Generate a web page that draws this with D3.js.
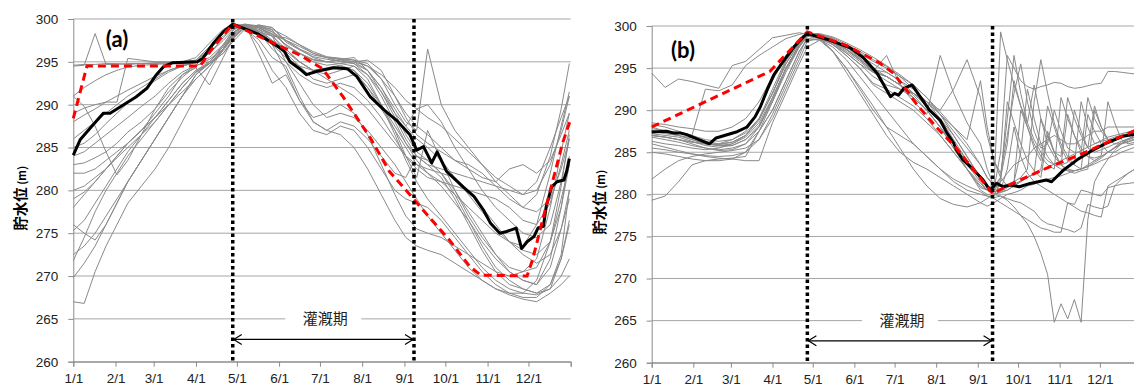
<!DOCTYPE html>
<html>
<head>
<meta charset="utf-8">
<script src="https://cdn.jsdelivr.net/npm/d3@7"></script>
<style>
  body { margin: 0; background: #fff; }
  svg { display: block; font-family: Lato, "Open Sans", sans-serif; }
</style>
</head>
<body>
<svg id="chart" width="1134" height="387"></svg>
<script>
// ---- axes ----
const monthDays = [0, 31, 59, 90, 120, 151, 181, 212, 243, 273, 304, 334];
const monthLabels = ["1/1", "2/1", "3/1", "4/1", "5/1", "6/1", "7/1", "8/1", "9/1", "10/1", "11/1", "12/1"];
const levelTicks = [260, 265, 270, 275, 280, 285, 290, 295, 300];
const periodLabel = "灌漑期";
const yTitle = "貯水位";
const yUnit = " (m)";

// ---- panel (a) ----
const irrigA = [117, 250];
const ruleDaysA = [0, 10, 93, 103, 117, 144, 166, 183, 198, 218, 232, 247, 261, 276, 291, 299, 333, 337, 345, 352, 359, 365];
const ruleA = [288.4, 294.5, 294.5, 296.8, 299.4, 297.4, 295.8, 294.2, 290.9, 286.1, 282.2, 279.5, 276.9, 274.2, 271.1, 270.1, 270.0, 271.9, 276.9, 281.2, 285.5, 288.3];
const meanDaysA = [0, 5, 12, 22, 27, 46, 54, 61, 66, 73, 91, 95, 103, 110, 117, 135, 152, 155, 159, 166, 171, 179, 191, 201, 208, 218, 228, 237, 247, 252, 257, 263, 267, 274, 286, 294, 301, 306, 313, 318, 325, 329, 333, 338, 341, 345, 347, 351, 355, 360, 362, 364];
const meanA = [284.1, 285.9, 287.2, 289.0, 289.0, 290.9, 291.9, 293.5, 294.4, 294.9, 295.0, 295.4, 297.2, 298.5, 299.4, 298.3, 296.6, 296.2, 295.0, 294.2, 293.5, 293.9, 294.3, 294.2, 293.3, 290.9, 289.4, 288.2, 286.5, 284.7, 285.1, 283.2, 284.5, 282.2, 280.4, 279.3, 277.7, 276.2, 275.0, 275.2, 275.6, 273.2, 274.0, 274.6, 275.6, 275.8, 278.1, 280.4, 281.0, 281.2, 282.2, 283.7];
const daysA = [0, 8, 16, 24, 32, 40, 50, 60, 70, 80, 90, 100, 110, 118, 126, 136, 146, 156, 166, 176, 186, 196, 206, 216, 226, 236, 244, 252, 260, 270, 280, 290, 300, 310, 320, 330, 340, 350, 358, 364];
const yearsA = [
  [294.6, 294.7, 294.7, 294.8, 294.8, 294.7, 294.8, 294.8, 294.9, 294.9, 295.2, 296.5, 298.3, 299.2, 299.4, 299.0, 298.2, 297.5, 296.5, 295.8, 295.5, 295.3, 295.0, 294.5, 293.5, 292.0, 290.5, 289.5, 288.5, 287.5, 286.0, 284.5, 283.0, 281.5, 280.5, 279.5, 280.0, 283.0, 287.0, 291.0],
  [294.5, 294.6, 298.3, 294.7, 294.7, 294.8, 294.8, 294.9, 294.9, 295.0, 295.5, 297.2, 298.8, 299.4, 299.2, 298.5, 298.0, 297.8, 297.0, 296.2, 295.6, 295.4, 295.2, 294.8, 293.0, 290.0, 288.0, 287.0, 296.5, 290.0, 287.0, 285.0, 283.0, 281.0, 279.5, 278.0, 279.5, 284.0, 289.5, 294.8],
  [291.0, 292.0, 292.8, 293.5, 294.0, 294.4, 294.6, 294.7, 294.8, 294.8, 295.0, 296.0, 297.8, 299.0, 299.3, 298.6, 297.0, 295.5, 294.5, 294.0, 294.2, 294.5, 294.0, 292.0, 289.5, 287.0, 285.0, 283.0, 282.0, 281.0, 279.5, 278.0, 276.5, 275.0, 274.0, 273.5, 276.0, 282.0, 287.5, 291.5],
  [291.0, 289.8, 287.5, 284.5, 281.8, 283.5, 286.5, 289.5, 292.0, 293.5, 294.6, 296.5, 298.5, 299.2, 298.8, 297.6, 295.5, 294.5, 291.0, 288.0, 287.0, 288.0, 287.5, 286.0, 284.0, 282.0, 281.5, 284.0, 283.5, 282.0, 279.5, 276.5, 273.5, 271.0, 269.5, 268.5, 268.0, 268.5, 272.0, 276.5],
  [289.0, 289.6, 290.0, 290.3, 290.3, 295.4, 295.2, 295.0, 295.0, 295.0, 295.2, 296.8, 298.5, 299.3, 299.0, 297.0, 294.0, 292.0, 289.0, 287.0, 286.5, 287.5, 287.0, 285.0, 282.5, 280.0, 279.0, 278.5, 278.0, 276.5, 274.5, 272.5, 270.5, 269.0, 268.0, 267.5, 267.5, 269.0, 272.0, 276.0],
  [288.0, 288.8, 289.5, 290.3, 291.0, 291.7, 292.5, 293.3, 294.0, 294.6, 295.0, 296.0, 297.5, 298.8, 299.3, 299.0, 298.3, 297.0, 296.0, 295.2, 295.0, 295.3, 295.5, 294.0, 291.5, 288.5, 286.0, 284.0, 283.0, 282.5, 282.0, 281.5, 281.0, 280.5, 280.0, 279.5, 281.0, 285.0, 288.5, 291.0],
  [286.0, 287.0, 288.0, 289.0, 290.0, 291.0, 292.0, 293.0, 294.0, 294.5, 295.0, 296.5, 298.0, 299.0, 299.4, 299.2, 298.8, 298.0, 297.0, 296.0, 295.5, 295.0, 294.8, 294.0, 292.0, 289.5, 287.5, 286.0, 285.0, 283.5, 281.5, 279.5, 277.5, 275.5, 274.0, 273.0, 272.5, 274.0, 278.0, 283.0],
  [285.0, 285.5, 286.5, 287.8, 289.0, 290.2, 291.6, 292.8, 293.8, 294.5, 294.9, 295.5, 297.0, 298.8, 299.3, 299.1, 298.5, 297.5, 296.8, 296.0, 295.5, 295.4, 295.2, 294.5, 293.0, 291.0, 289.0, 287.5, 286.5, 285.0, 283.5, 282.5, 281.5, 281.0, 282.5, 283.0, 282.0, 283.5, 286.5, 289.0],
  [284.0, 284.5, 285.5, 286.5, 287.5, 288.5, 289.8, 291.0, 292.5, 293.8, 294.6, 295.0, 296.8, 298.5, 299.2, 298.8, 297.5, 296.5, 295.0, 294.0, 293.5, 294.0, 294.5, 293.5, 291.0, 288.0, 285.5, 283.5, 282.0, 280.5, 278.5, 276.5, 274.0, 272.0, 270.5, 269.5, 269.0, 272.0, 278.0, 284.0],
  [283.0, 283.2, 283.8, 284.5, 285.5, 286.8, 288.0, 289.5, 291.5, 293.2, 294.5, 295.3, 296.5, 298.0, 299.0, 298.5, 296.5, 295.0, 292.5, 290.0, 288.5, 289.0, 288.5, 287.0, 285.0, 283.0, 281.0, 279.0, 277.0, 275.0, 273.0, 271.0, 269.5, 268.5, 268.0, 268.0, 269.5, 274.0, 280.5, 286.5],
  [282.0, 282.0, 282.5, 283.5, 284.5, 285.5, 287.0, 288.5, 290.5, 292.5, 294.0, 294.8, 296.0, 297.5, 298.8, 299.3, 299.0, 297.3, 296.4, 295.6, 295.3, 295.1, 294.8, 293.5, 291.5, 289.0, 287.5, 289.5, 290.0, 288.0, 285.0, 282.5, 280.0, 278.0, 276.5, 275.0, 274.5, 276.0, 281.0, 286.0],
  [280.0, 280.5, 281.5, 282.5, 283.8, 285.0, 286.5, 288.0, 290.0, 292.0, 293.8, 294.8, 296.0, 297.8, 299.0, 299.2, 298.5, 297.0, 296.0, 295.0, 294.6, 294.8, 294.5, 293.0, 290.0, 286.5, 283.5, 281.0, 279.0, 277.0, 275.0, 273.0, 271.0, 269.5, 268.5, 268.0, 267.8, 268.5, 270.0, 272.0],
  [279.0, 279.8, 281.0, 282.5, 284.0, 285.5, 287.0, 288.5, 290.0, 291.5, 293.0, 294.5, 296.3, 298.0, 299.0, 299.3, 299.0, 297.5, 296.5, 295.5, 295.0, 294.8, 295.0, 295.2, 294.0, 291.0, 288.5, 286.5, 285.5, 284.5, 283.5, 283.0, 282.0, 280.5, 279.0, 278.0, 277.5, 279.0, 282.5, 286.0],
  [278.0, 279.5, 281.0, 282.5, 284.0, 285.5, 287.0, 289.0, 291.0, 293.5, 294.3, 292.3, 295.5, 298.0, 299.0, 298.8, 298.0, 296.5, 295.0, 294.0, 294.3, 294.6, 294.0, 292.5, 290.0, 287.0, 284.0, 281.5, 287.0, 283.5, 280.0, 277.0, 274.5, 272.5, 271.0, 270.5, 272.0, 278.0, 284.5, 289.0],
  [276.0, 275.0, 274.2, 276.0, 278.5, 281.0, 283.5, 286.0, 288.5, 291.0, 293.5, 294.8, 296.5, 298.3, 299.2, 299.0, 297.0, 294.0, 290.5, 288.0, 287.0, 286.5, 285.0, 282.5, 279.5, 276.5, 274.5, 273.5, 273.0, 272.5, 271.5, 270.5, 269.5, 268.5, 267.8, 267.3, 267.0, 268.0, 269.0, 270.0],
  [275.3, 276.5, 278.5, 280.5, 282.5, 284.5, 286.5, 288.5, 290.5, 292.5, 294.0, 295.0, 296.8, 298.5, 299.3, 299.2, 298.7, 296.8, 296.0, 295.3, 295.0, 295.2, 295.0, 294.0, 292.0, 289.0, 286.5, 284.5, 283.5, 282.0, 280.0, 277.5, 275.0, 272.5, 270.5, 269.5, 269.0, 271.0, 275.5, 280.0],
  [271.8, 274.5, 277.5, 280.0, 282.0, 284.0, 286.0, 288.0, 290.0, 292.0, 293.8, 294.8, 296.5, 298.2, 299.0, 298.6, 297.5, 296.2, 295.0, 294.0, 293.0, 292.0, 291.0, 289.5, 287.5, 285.5, 284.0, 283.0, 282.5, 282.0, 281.5, 280.0, 278.0, 276.0, 274.0, 272.5, 271.5, 272.5, 275.5, 279.0],
  [267.0, 266.8, 270.5, 273.5, 276.0, 278.5, 280.5, 282.5, 285.0, 288.0, 291.0, 294.0, 296.5, 298.5, 299.2, 299.0, 298.0, 295.0, 293.5, 292.5, 292.0, 292.5, 292.0, 290.5, 288.5, 286.0, 284.0, 282.5, 281.5, 281.0, 280.5, 280.0, 279.5, 279.0, 278.0, 276.5, 276.0, 278.5, 283.0, 287.0],
  [272.5, 273.5, 275.0, 277.0, 279.0, 281.0, 283.5, 286.0, 288.5, 291.0, 293.5, 295.0, 297.0, 298.8, 299.4, 296.0, 292.5, 293.5, 290.5, 288.5, 289.0, 290.0, 289.0, 286.5, 283.0, 279.5, 277.0, 275.5, 275.0, 274.5, 273.5, 272.5, 271.5, 270.5, 270.0, 270.5, 271.0, 274.0, 279.0, 283.0],
  [269.8, 271.5, 273.5, 276.0, 278.5, 281.0, 283.5, 286.0, 288.5, 291.0, 293.0, 294.5, 296.5, 298.5, 299.3, 299.0, 298.2, 296.0, 294.5, 293.0, 292.5, 293.0, 293.5, 292.0, 290.0, 287.5, 285.5, 284.0, 283.0, 281.5, 279.0, 276.0, 273.0, 270.5, 269.0, 268.5, 268.0, 269.0, 272.5, 280.0]
];

// ---- panel (b) ----
const irrigB = [116, 254];
const ruleDaysB = [0, 88, 116, 145, 170, 180, 188, 198, 212, 227, 242, 254, 269, 294, 319, 344, 365];
const ruleB = [288.0, 294.6, 299.3, 297.7, 295.6, 294.4, 292.8, 290.6, 288.0, 285.5, 282.5, 280.1, 281.3, 283.1, 284.7, 286.5, 287.9];
const meanDaysB = [0, 11, 16, 21, 26, 43, 48, 63, 71, 77, 81, 86, 91, 98, 106, 113, 116, 133, 148, 158, 168, 178, 181, 184, 188, 194, 200, 207, 215, 220, 225, 227, 232, 240, 247, 252, 257, 262, 267, 274, 282, 294, 298, 307, 317, 327, 339, 351, 359, 365];
const meanB = [287.4, 287.5, 287.3, 287.3, 287.1, 286.0, 286.7, 287.4, 288.0, 289.2, 290.4, 292.4, 294.2, 295.8, 297.5, 298.7, 299.1, 298.3, 297.4, 296.2, 294.4, 291.6, 292.0, 291.8, 292.6, 293.0, 291.6, 290.0, 288.8, 287.3, 286.1, 285.3, 284.1, 282.9, 281.7, 280.5, 281.3, 280.9, 281.1, 280.9, 281.3, 281.7, 281.5, 282.9, 284.1, 285.1, 286.1, 286.9, 287.1, 287.3];
const daysB = [0, 10, 20, 30, 40, 50, 60, 70, 80, 90, 100, 110, 116, 125, 135, 145, 155, 165, 175, 185, 195, 205, 215, 225, 235, 245, 250, 255, 260, 265, 270, 275, 280, 285, 290, 295, 300, 305, 310, 315, 320, 325, 330, 335, 340, 345, 350, 355, 360, 365];
const yearsB = [
  [294.4, 292.7, 293.7, 293.4, 293.0, 292.6, 295.3, 295.8, 297.2, 298.6, 298.9, 299.2, 299.0, 298.6, 297.8, 296.8, 295.5, 294.0, 293.0, 292.5, 292.0, 291.0, 289.5, 287.5, 285.5, 283.5, 282.0, 281.0, 281.5, 282.5, 283.5, 284.0, 284.5, 285.5, 286.0, 286.5, 287.0, 286.5, 286.0, 286.0, 286.5, 287.0, 287.5, 287.5, 288.0, 288.0, 288.0, 288.0, 288.0, 288.0],
  [288.5, 288.3, 288.0, 287.8, 287.5, 287.5, 288.0, 289.0, 291.0, 294.0, 296.5, 298.5, 299.2, 299.0, 298.3, 297.2, 296.0, 294.8, 294.5, 293.5, 292.0, 290.5, 289.0, 287.0, 284.5, 282.0, 280.8, 280.5, 285.0, 296.5, 295.0, 293.5, 292.8, 292.5, 292.8, 293.0, 293.3, 293.2, 292.8, 292.6, 292.7, 292.9, 293.1, 293.2, 294.6, 294.6, 294.5, 294.4, 294.3, 294.3],
  [287.0, 286.8, 286.5, 286.0, 285.5, 285.3, 285.5, 286.0, 288.0, 291.5, 295.0, 297.8, 298.8, 298.6, 297.8, 296.5, 295.0, 293.2, 292.5, 291.5, 290.5, 289.0, 287.0, 285.0, 283.0, 280.8, 280.5, 280.0, 279.8, 279.3, 278.5, 277.5, 276.5, 275.0, 273.0, 270.5, 264.8, 267.0, 265.2, 267.5, 264.8, 277.0, 281.5, 283.0, 284.2, 285.2, 286.0, 286.5, 286.8, 287.0],
  [279.3, 279.8, 281.5, 283.5, 284.0, 284.2, 284.3, 284.5, 287.5, 290.0, 293.5, 297.0, 298.5, 298.4, 297.5, 296.0, 294.0, 292.0, 290.0, 288.0, 286.0, 284.5, 283.0, 281.8, 281.0, 280.3, 279.8, 279.5, 279.0, 278.5, 278.0, 277.5, 277.0, 276.5, 276.0, 275.8, 275.5, 275.5, 279.0, 278.5, 278.0, 277.8, 277.5, 277.3, 281.0, 281.5, 282.0, 282.5, 283.0, 283.5],
  [281.8, 283.0, 284.0, 284.5, 284.8, 285.0, 285.2, 285.5, 286.5, 289.0, 292.5, 296.0, 298.2, 298.5, 297.8, 296.5, 295.0, 293.0, 292.0, 291.0, 290.0, 288.5, 287.0, 285.0, 283.0, 281.0, 280.5, 280.3, 280.5, 281.0, 281.5, 290.0, 288.0, 285.5, 284.0, 290.5, 288.0, 285.5, 284.0, 283.5, 291.0, 288.0, 286.0, 286.3, 286.5, 286.8, 287.0, 287.2, 287.3, 287.5],
  [285.5, 285.3, 285.0, 284.8, 284.6, 284.5, 284.6, 285.0, 286.5, 289.5, 293.0, 296.5, 298.8, 299.0, 298.5, 297.5, 296.2, 294.5, 293.5, 292.5, 291.5, 290.0, 288.0, 285.5, 283.0, 280.5, 280.0, 279.8, 281.5, 291.0, 288.5, 286.0, 284.0, 282.8, 282.0, 287.0, 285.0, 283.5, 282.8, 282.5, 282.8, 283.0, 290.0, 288.0, 286.5, 286.0, 286.0, 286.2, 286.5, 286.8],
  [286.3, 286.0, 285.8, 285.5, 285.3, 285.5, 286.0, 287.0, 289.0, 292.0, 295.5, 298.0, 299.0, 298.8, 298.0, 296.8, 295.5, 294.5, 294.0, 293.0, 291.5, 290.0, 288.0, 286.0, 284.0, 282.0, 281.0, 280.2, 282.0, 286.0, 293.5, 290.5, 288.0, 286.0, 284.5, 283.5, 283.0, 291.5, 289.0, 287.0, 285.5, 284.5, 284.0, 284.5, 285.0, 285.5, 286.0, 286.3, 286.6, 287.0],
  [287.0, 286.8, 286.5, 286.2, 286.0, 286.0, 286.5, 287.5, 290.0, 293.5, 296.5, 298.5, 299.2, 299.0, 298.6, 297.8, 297.0, 296.0, 295.2, 294.0, 292.5, 291.0, 289.0, 286.5, 284.0, 281.8, 280.8, 280.5, 299.3, 296.0, 293.0, 290.5, 288.5, 286.5, 285.0, 284.0, 283.5, 283.0, 282.8, 282.8, 283.0, 283.3, 283.8, 284.3, 285.0, 285.6, 286.2, 286.6, 287.0, 287.2],
  [287.5, 287.2, 287.0, 286.5, 286.0, 285.8, 286.0, 286.8, 288.5, 291.5, 295.0, 297.5, 298.8, 299.0, 298.3, 297.3, 296.0, 294.6, 296.5, 293.0, 291.0, 289.5, 296.5, 292.0, 288.5, 286.0, 283.0, 281.0, 282.0, 289.0, 296.5, 292.0, 288.5, 293.0, 289.0, 286.0, 284.5, 283.5, 283.0, 282.8, 283.0, 283.5, 284.0, 284.5, 285.0, 285.5, 286.0, 286.5, 286.8, 287.0],
  [288.0, 287.5, 287.0, 286.5, 286.0, 285.8, 285.8, 286.5, 288.0, 291.0, 294.5, 297.5, 298.8, 298.5, 297.0, 295.0, 292.8, 290.5, 288.0, 285.5, 283.0, 281.0, 279.5, 278.8, 278.5, 279.0, 279.5, 280.0, 280.3, 280.5, 281.0, 281.5, 282.0, 282.5, 289.0, 287.0, 285.0, 284.5, 291.5, 289.0, 287.0, 285.5, 285.0, 285.3, 285.6, 286.0, 286.3, 286.6, 286.8, 287.0],
  [287.8, 287.6, 287.3, 287.0, 292.5, 292.3, 293.0, 295.3, 296.5, 297.5, 298.5, 299.0, 299.2, 299.0, 298.3, 297.5, 296.5, 295.5, 294.5, 293.5, 292.5, 291.0, 289.5, 288.0, 286.5, 293.5, 288.0, 284.0, 282.5, 287.0, 292.0, 295.5, 291.0, 287.5, 285.5, 286.0, 290.0, 287.5, 285.5, 285.0, 285.0, 291.5, 289.0, 287.5, 286.5, 286.5, 286.8, 287.0, 287.2, 287.4],
  [286.8, 286.5, 286.2, 285.8, 285.5, 285.2, 285.3, 286.0, 287.5, 290.0, 293.5, 297.0, 298.5, 298.3, 297.0, 295.0, 292.5, 290.0, 288.0, 287.0, 286.0, 284.5, 283.0, 281.5, 280.5, 280.0, 279.8, 279.6, 279.8, 279.5, 279.2, 279.0, 278.5, 278.0, 277.0, 276.5, 276.3, 276.0, 275.8, 275.5, 276.0, 278.8, 278.5, 278.3, 278.6, 281.0, 281.8, 282.5, 283.0, 283.5],
  [287.2, 287.0, 286.8, 286.3, 285.8, 285.6, 285.8, 286.5, 288.2, 291.2, 294.8, 297.6, 299.0, 299.1, 298.7, 298.0, 297.2, 296.3, 295.3, 294.2, 293.0, 291.5, 289.8, 288.0, 286.0, 283.5, 282.0, 281.2, 280.5, 283.0, 288.0, 284.5, 282.5, 281.5, 281.0, 280.5, 280.0, 279.5, 279.0, 278.8, 280.5, 280.3, 280.0, 279.8, 280.8, 281.0, 281.2, 281.3, 281.4, 281.5],
  [288.3, 288.0, 287.5, 287.0, 286.5, 286.3, 286.5, 287.3, 289.0, 292.0, 295.5, 298.0, 299.0, 298.6, 297.0, 294.5, 292.0, 289.5, 287.0, 285.0, 283.8, 283.0, 282.0, 281.0, 280.0, 279.0, 278.6, 279.0, 279.5, 280.0, 280.2, 280.5, 281.0, 281.2, 281.5, 281.8, 282.0, 282.2, 282.5, 282.8, 283.0, 283.3, 283.6, 284.0, 284.3, 284.6, 285.0, 285.3, 285.6, 286.0],
  [287.0, 286.8, 286.5, 286.2, 286.0, 285.9, 286.2, 287.0, 289.0, 292.5, 296.0, 298.3, 299.1, 298.9, 298.2, 297.2, 296.0, 294.7, 294.0, 293.0, 292.0, 290.5, 288.5, 286.0, 283.5, 281.5, 280.5, 280.0, 280.2, 280.5, 281.0, 281.5, 282.0, 282.5, 283.0, 287.5, 285.0, 283.5, 283.8, 290.0, 287.5, 285.5, 290.5, 288.0, 286.5, 286.5, 287.0, 287.2, 287.4, 287.6],
  [286.0, 285.6, 285.2, 284.8, 284.5, 284.3, 284.2, 284.0, 284.0, 288.5, 292.0, 295.5, 297.5, 298.3, 298.0, 297.2, 296.2, 295.0, 294.0, 293.0, 292.0, 291.0, 290.0, 292.5, 296.0, 291.5, 287.0, 284.0, 282.0, 281.0, 281.5, 285.0, 292.5, 289.0, 286.0, 284.5, 283.5, 283.5, 289.5, 287.0, 285.0, 284.5, 284.3, 284.6, 291.0, 288.5, 286.5, 286.0, 286.2, 286.4],
  [287.6, 287.3, 287.0, 286.7, 286.3, 286.0, 286.2, 287.0, 288.8, 292.0, 295.8, 298.2, 299.1, 298.8, 298.0, 297.0, 295.8, 294.5, 294.0, 293.0, 291.8, 290.0, 288.0, 285.5, 283.0, 281.3, 280.5, 280.0, 280.3, 280.8, 281.2, 281.6, 282.0, 282.4, 282.8, 283.2, 283.6, 284.0, 284.4, 284.8, 285.2, 285.6, 286.0, 286.4, 286.8, 287.0, 287.2, 287.4, 287.5, 287.6],
  [285.0, 284.8, 284.5, 284.2, 284.0, 284.0, 284.2, 285.0, 287.5, 291.0, 295.0, 297.8, 299.0, 298.8, 298.3, 297.6, 296.8, 295.8, 295.0, 294.0, 293.0, 291.5, 289.5, 287.0, 284.5, 281.8, 281.0, 280.8, 281.0, 281.2, 281.5, 282.0, 283.0, 291.0, 296.0, 292.0, 288.5, 286.0, 284.5, 283.5, 283.0, 289.5, 287.5, 286.0, 285.0, 285.0, 285.5, 285.8, 286.0, 286.2]
];

// ---- layout ----
const panels = [
  { tag: "(a)", x0: 73.3, x1: 570.7, y0: 19, y1: 361.7, endTick: true,
    days: daysA, years: yearsA, meanDays: meanDaysA, mean: meanA, ruleDays: ruleDaysA, rule: ruleA, irrig: irrigA,
    tagX: 117, tagY: 47, titleX: 21 },
  { tag: "(b)", x0: 651.7, x1: 1141.5, y0: 26, y1: 362.7, endTick: false,
    days: daysB, years: yearsB, meanDays: meanDaysB, mean: meanB, ruleDays: ruleDaysB, rule: ruleB, irrig: irrigB,
    tagX: 683, tagY: 58, titleX: 600 }
];

const svg = d3.select("#chart");
svg.append("rect").attr("width", 1134).attr("height", 387).attr("fill", "#fff");

panels.forEach(p => {
  const x = d3.scaleLinear().domain([0, 365]).range([p.x0, p.x1]);
  const y = d3.scaleLinear().domain([260, 300]).range([p.y1, p.y0]);
  const g = svg.append("g");

  // grid lines
  g.append("g").selectAll("line")
    .data(levelTicks)
    .join("line")
    .attr("x1", p.x0).attr("x2", p.x1)
    .attr("y1", d => y(d)).attr("y2", d => y(d))
    .attr("stroke", "#a6a6a6").attr("stroke-width", 1);

  // y axis
  const yAxis = g.append("g")
    .attr("transform", `translate(${p.x0},0)`)
    .call(d3.axisLeft(y).tickValues(levelTicks).tickSize(5).tickPadding(10));
  yAxis.select(".domain").attr("stroke", "#8c8c8c");
  yAxis.selectAll(".tick line").attr("stroke", "#8c8c8c");
  yAxis.selectAll("text").attr("font-size", 13.5).attr("fill", "#222");

  // x axis
  const xTicks = p.endTick ? monthDays.concat([365]) : monthDays;
  const xAxis = g.append("g")
    .attr("transform", `translate(0,${p.y1})`)
    .call(d3.axisBottom(x).tickValues(xTicks).tickSize(5).tickPadding(7)
      .tickFormat(d => { const i = monthDays.indexOf(d); return i < 0 ? "" : monthLabels[i]; }));
  xAxis.select(".domain").attr("stroke", "#8c8c8c");
  xAxis.selectAll(".tick line").attr("stroke", "#8c8c8c");
  xAxis.selectAll("text").attr("font-size", 13.5).attr("fill", "#222");

  // yearly records
  const line = d3.line().x(d => x(d[0])).y(d => y(d[1]));
  g.append("g").selectAll("path")
    .data(p.years)
    .join("path")
    .attr("d", vals => line(vals.map((v, i) => [p.days[i], v])))
    .attr("fill", "none")
    .attr("stroke", "#8a8a8a")
    .attr("stroke-width", 1);

  // mean
  g.append("path")
    .attr("d", line(p.mean.map((v, i) => [p.meanDays[i], v])))
    .attr("fill", "none").attr("stroke", "#000").attr("stroke-width", 3)
    .attr("stroke-linejoin", "round");

  // rule curve
  g.append("path")
    .attr("d", line(p.rule.map((v, i) => [p.ruleDays[i], v])))
    .attr("fill", "none").attr("stroke", "#ff0000").attr("stroke-width", 3)
    .attr("stroke-dasharray", "8,5");

  // irrigation period
  const ya = y(262.6);
  const xs = x(p.irrig[0]), xe = x(p.irrig[1]);
  const mid = (xs + xe) / 2;
  g.append("rect")
    .attr("x", mid - 38).attr("y", y(265) - 10).attr("width", 76).attr("height", 20)
    .attr("fill", "#fff");
  g.append("text")
    .attr("x", mid + 2).attr("y", y(265) + 5)
    .attr("text-anchor", "middle")
    .attr("font-family", "'Noto Sans CJK JP', sans-serif")
    .attr("font-size", 15).attr("fill", "#222")
    .text(periodLabel);
  g.append("line")
    .attr("x1", xs + 1).attr("x2", xe - 1).attr("y1", ya).attr("y2", ya)
    .attr("stroke", "#000").attr("stroke-width", 1.2);
  g.append("path")
    .attr("d", `M${xs + 9},${ya - 5}L${xs + 1},${ya}L${xs + 9},${ya + 5}M${xe - 9},${ya - 5}L${xe - 1},${ya}L${xe - 9},${ya + 5}`)
    .attr("fill", "none").attr("stroke", "#000").attr("stroke-width", 1.2);

  g.append("g").selectAll("line")
    .data(p.irrig)
    .join("line")
    .attr("x1", d => x(d)).attr("x2", d => x(d))
    .attr("y1", p.y0).attr("y2", p.y1)
    .attr("stroke", "#000").attr("stroke-width", 3.5)
    .attr("stroke-dasharray", "3.5,3");

  // panel tag
  g.append("text")
    .attr("x", p.tagX).attr("y", p.tagY)
    .attr("text-anchor", "middle")
    .attr("font-size", 22).attr("font-weight", "bold").attr("fill", "#000")
    .text(p.tag);

  // y title
  const t = g.append("text")
    .attr("transform", `translate(${p.titleX + 5},${(p.y0 + p.y1) / 2 + 8}) rotate(-90)`)
    .attr("text-anchor", "middle")
    .attr("font-family", "'Noto Sans CJK JP', sans-serif")
    .attr("font-weight", "bold").attr("fill", "#000");
  t.append("tspan").attr("font-size", 14.5).text(yTitle);
  t.append("tspan").attr("font-size", 11).text(yUnit);
});
</script>
</body>
</html>
